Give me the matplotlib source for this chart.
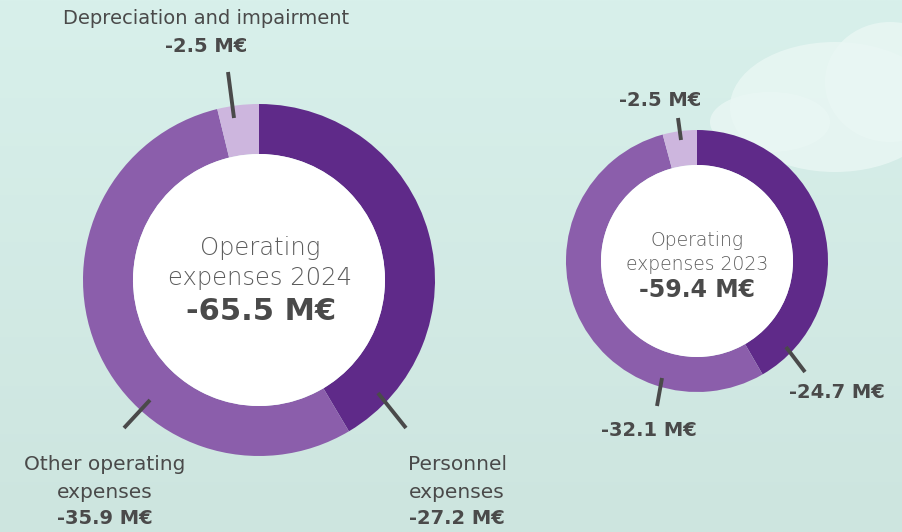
import numpy as np
import matplotlib
matplotlib.use('Agg')
import matplotlib.pyplot as plt
from matplotlib.patches import Ellipse

# operating expenses, M EUR (shown as negatives)
categories = ['Personnel expenses', 'Other operating expenses', 'Depreciation and impairment']
values_2024 = [27.2, 35.9, 2.5]
values_2023 = [24.7, 32.1, 2.5]
total_2024 = -65.5
total_2023 = -59.4

colors = ['#5f2a89', '#8b5eab', '#cdb6de']
ink = '#4a4a4a'

W, H = 902, 532
fig = plt.figure(figsize=(W / 100, H / 100), dpi=100)
ax = fig.add_axes([0, 0, 1, 1])

# background: mint with a soft pale cloud at top right
grad = np.linspace(0, 1, 200)[:, None] * np.ones((1, 10))
bg = matplotlib.colors.LinearSegmentedColormap.from_list('bg', ['#d8f0eb', '#cde5df'])
ax.imshow(grad, cmap=bg, extent=(0, W, 0, H), origin='upper', aspect='auto', zorder=0)
for cx, cy, w, h in [(835, 425, 210, 130), (890, 450, 130, 120), (770, 410, 120, 60)]:
    ax.add_patch(Ellipse((cx, cy), w, h, color='#eaf7f4', alpha=0.8, lw=0, zorder=0.5))


def y(v):
    return H - v


def mval(v):
    return f'{v:.1f} M€'


# 2024 donut
c24 = (259, y(280))
ax.pie(values_2024, colors=colors, startangle=90, counterclock=False,
       center=c24, radius=176, wedgeprops=dict(width=50, linewidth=0))
# 2023 donut
c23 = (697, y(261))
ax.pie(values_2023, colors=colors, startangle=90, counterclock=False,
       center=c23, radius=131, wedgeprops=dict(width=35, linewidth=0))

ax.add_patch(plt.Circle(c24, 126, color='white', lw=0, zorder=3))
ax.add_patch(plt.Circle(c23, 96, color='white', lw=0, zorder=3))

# leader lines
for (x0, y0), (x1, y1) in [((228, 72), (234, 118)), ((378, 393), (406, 428)),
                           ((150, 400), (124, 428)), ((678, 118), (681, 140)),
                           ((786, 347), (805, 372)), ((662, 378), (657, 406))]:
    ax.plot([x0, x1], [y(y0), y(y1)], color=ink, lw=2.8, solid_capstyle='butt', zorder=4)

fam = ['DejaVu Sans']
lab = dict(family=fam, color=ink, ha='center', va='center', zorder=5)
num = dict(family=fam, color=ink, ha='center', va='center', weight='bold', zorder=5)

ax.text(206, y(18), 'Depreciation and impairment', fontsize=14, **lab)
ax.text(206, y(46), mval(-values_2024[2]), fontsize=14, **num)
ax.text(105, y(465), 'Other operating', fontsize=14.5, **lab)
ax.text(105, y(492), 'expenses', fontsize=14.5, **lab)
ax.text(105, y(519), mval(-values_2024[1]), fontsize=14, **num)
ax.text(457, y(465), 'Personnel', fontsize=14.5, **lab)
ax.text(457, y(492), 'expenses', fontsize=14.5, **lab)
ax.text(457, y(519), mval(-values_2024[0]), fontsize=14, **num)

ax.text(660, y(100), mval(-values_2023[2]), fontsize=14, **num)
ax.text(837, y(392), mval(-values_2023[0]), fontsize=14, **num)
ax.text(649, y(431), mval(-values_2023[1]), fontsize=14, **num)

# centre labels
cen = dict(family=fam, color='#5c5c5c', ha='center', va='center', weight='light', zorder=5)
ax.text(260, y(248), 'Operating', fontsize=17.5, **cen)
ax.text(260, y(278), 'expenses 2024', fontsize=17.5, **cen)
ax.text(261, y(312), mval(total_2024), fontsize=22, **num)
ax.text(697, y(241), 'Operating', fontsize=13.5, **cen)
ax.text(697, y(264), 'expenses 2023', fontsize=13.5, **cen)
ax.text(697, y(290), mval(total_2023), fontsize=17, **num)

ax.set_xlim(0, W)
ax.set_ylim(0, H)
ax.set_aspect('auto')
ax.axis('off')

fig.savefig('out.png', dpi=100)
